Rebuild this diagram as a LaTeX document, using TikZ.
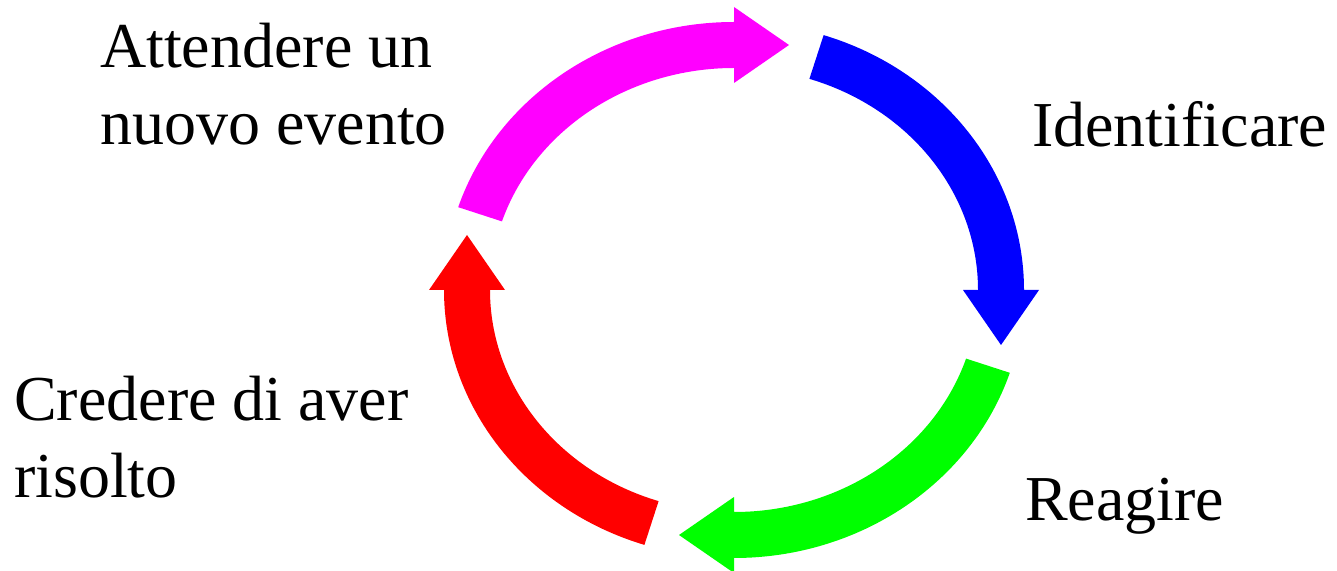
\documentclass[tikz,border=0pt]{standalone}
\usepackage{fontspec}
\setmainfont{Liberation Serif}
\usetikzlibrary{calc}
\definecolor{cmag}{RGB}{255,0,255}
\definecolor{cblue}{RGB}{0,0,255}
\definecolor{cgreen}{RGB}{0,255,0}
\definecolor{cred}{RGB}{255,0,0}
\tikzset{
  lbl/.style={anchor=base west, inner sep=0pt, font=\fontsize{64}{77}\selectfont, text=black}
}
\begin{document}
\begin{tikzpicture}[x=1pt,y=1pt]
\useasboundingbox (0,0) rectangle (1337,570);
\coordinate (C) at (734,280);
\def\rx{267}\def\ry{245}\def\w{23}\def\hw{38}\def\L{55}
\pgfmathsetmacro\rxo{\rx+\w}\pgfmathsetmacro\ryo{\ry+\w}
\pgfmathsetmacro\rxi{\rx-\w}\pgfmathsetmacro\ryi{\ry-\w}
\pgfmathsetmacro\rxho{\rx+\hw}\pgfmathsetmacro\ryho{\ry+\hw}
\pgfmathsetmacro\rxhi{\rx-\hw}\pgfmathsetmacro\ryhi{\ry-\hw}
\foreach \col/\s/\e/\nm in {cmag/162/90/wait, cblue/72/0/ident, cgreen/-18/-90/react, cred/252/180/solved}{
  \pgfmathsetmacro\d{\e-90}
  \coordinate (\nm-tail) at ($(C)+(\s:\rxo pt and \ryo pt)$);
  \coordinate (\nm-tip) at ($(C)+(\e:\rx pt and \ry pt)+(\d:\L pt)$);
  \fill[\col] (\nm-tail)
    arc[start angle=\s, end angle=\e, x radius=\rxo pt, y radius=\ryo pt]
    -- ($(C)+(\e:\rxho pt and \ryho pt)$)
    -- (\nm-tip)
    -- ($(C)+(\e:\rxhi pt and \ryhi pt)$)
    -- ($(C)+(\e:\rxi pt and \ryi pt)$)
    arc[start angle=\e, end angle=\s, x radius=\rxi pt, y radius=\ryi pt]
    -- cycle;
}
\node[lbl] (att1) at (100,502) {Attendere un};
\node[lbl] (att2) at (100,425) {nuovo evento};
\node[lbl] (idf) at (1032,423) {Identificare};
\node[lbl] (rea) at (1025,50) {Reagire};
\node[lbl] (cre1) at (14,149) {Credere di aver};
\node[lbl] (cre2) at (14,73) {risolto};
\end{tikzpicture}
\end{document}
